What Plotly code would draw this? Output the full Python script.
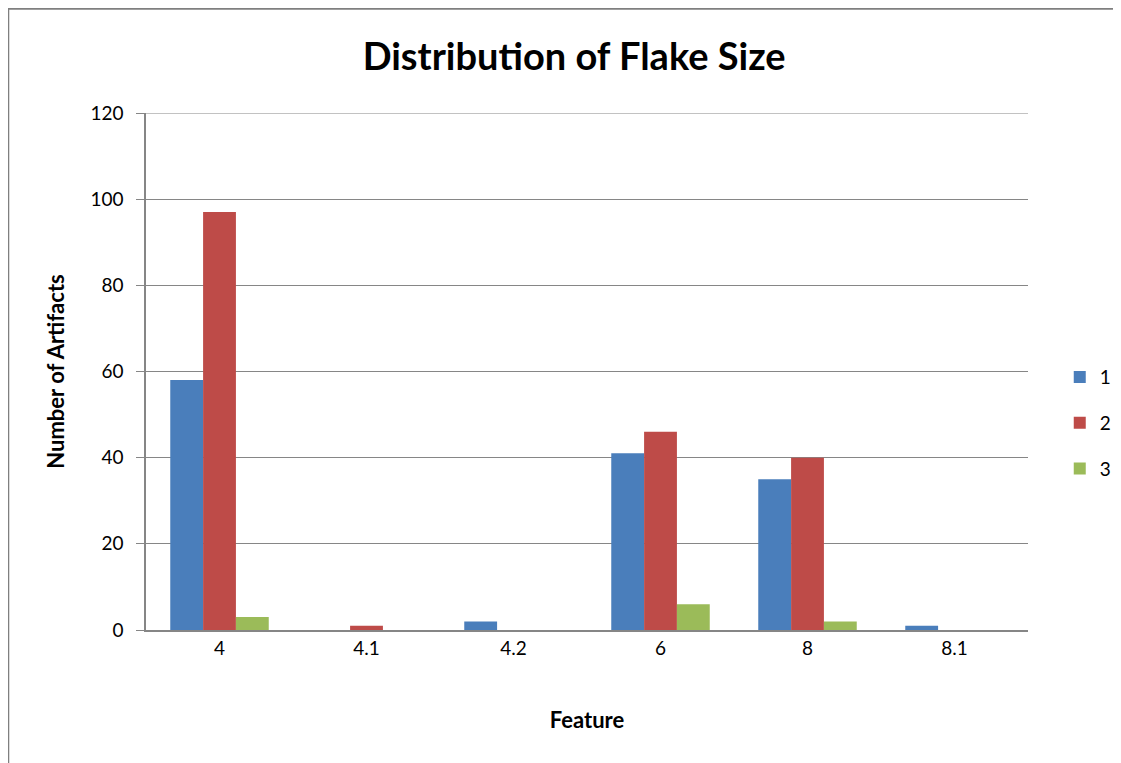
import plotly.graph_objects as go

categories = ["4", "4.1", "4.2", "6", "8", "8.1"]
series_names = ["1", "2", "3"]
series_1 = [58, 0, 2, 41, 35, 1]
series_2 = [97, 1, 0, 46, 40, 0]
series_3 = [3, 0, 0, 6, 2, 0]
colors = ["#4A7EBB", "#BE4B48", "#9BBB59"]

fig = go.Figure()
for name, vals, col in zip(series_names, [series_1, series_2, series_3], colors):
    fig.add_trace(go.Bar(x=categories, y=vals, name=name, legendgroup=name,
                         marker=dict(color=col, line=dict(width=0))))

# page body has an 8px margin, so compensate in the figure margins
fig.update_layout(
    width=1121, height=763,
    margin=dict(l=138, r=99, t=105, b=141),
    paper_bgcolor="white", plot_bgcolor="white",
    barmode="group", bargap=0.33, bargroupgap=0,
    title=dict(text="<b>Distribution of Flake Size</b>", x=0.505, xanchor="center", y=0.936, yanchor="middle",
               font=dict(family="Lato", size=38, color="black")),
    font=dict(family="Lato", color="black"),
    showlegend=True,
    legend=dict(x=1.036, y=0.40, xanchor="left", yanchor="middle", font=dict(size=19),
                tracegroupgap=18, itemsizing="constant"),
    xaxis=dict(type="category", showgrid=False, showline=True, linecolor="#868686", linewidth=1.5,
               ticks="", tickfont=dict(size=19), title=dict(text="<b>Feature</b>", font=dict(size=22), standoff=55)),
    yaxis=dict(range=[0, 120], dtick=20, showgrid=True, gridcolor="#868686", gridwidth=1,
               showline=True, linecolor="#868686", linewidth=1.5, ticks="outside", ticklen=8, tickcolor="#868686",
               tickfont=dict(size=19), zeroline=False, ticklabelstandoff=9,
               title=dict(text="<b>Number of Artifacts</b>", font=dict(size=22), standoff=20)),
)

# top gridline at the axis maximum
fig.add_shape(type="line", xref="paper", yref="y", x0=0, x1=1, y0=120, y1=120,
              line=dict(color="#868686", width=1))

# outer frame lines (chart border)
fig.add_shape(type="line", xref="paper", yref="paper", x0=-0.157, x1=1.2, y0=1.203, y1=1.203,
              line=dict(color="#7f7f7f", width=3.5))
fig.add_shape(type="line", xref="paper", yref="paper", x0=-0.157, x1=-0.157, y0=1.203, y1=-0.3,
              line=dict(color="#7f7f7f", width=3.5))

fig.write_html("out.html")
